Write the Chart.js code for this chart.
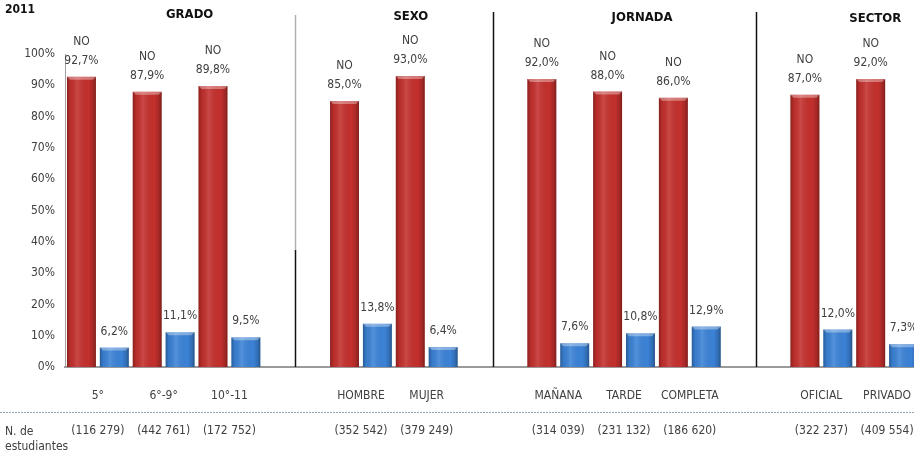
<!DOCTYPE html>
<html>
<head>
<meta charset="utf-8">
<script src="https://cdn.jsdelivr.net/npm/chart.js@4/dist/chart.umd.min.js"></script>
<style>
  html, body { margin: 0; padding: 0; background: #fff; overflow: hidden; }
  #wrap { position: absolute; left: 0; top: 0; width: 922px; height: 454px; }
  #chart { display: block; width: 922px; height: 454px; }
</style>
</head>
<body>
<div id="wrap"><canvas id="chart" width="922" height="454"></canvas></div>
<script>
// -------------------- DATA --------------------
const yearLabel = "2011";
const categories = ["5°", "6°-9°", "10°-11", "", "HOMBRE", "MUJER", "", "MAÑANA", "TARDE", "COMPLETA", "", "OFICIAL", "PRIVADO"];
const noValues = [92.7, 87.9, 89.8, null, 85.0, 93.0, null, 92.0, 88.0, 86.0, null, 87.0, 92.0];
const siValues = [6.2, 11.1, 9.5, null, 13.8, 6.4, null, 7.6, 10.8, 12.9, null, 12.0, 7.3];
const studentCounts = ["(116 279)", "(442 761)", "(172 752)", "", "(352 542)", "(379 249)", "", "(314 039)", "(231 132)", "(186 620)", "", "(322 237)", "(409 554)"];
const groupTitles = ["GRADO", "SEXO", "JORNADA", "SECTOR"];
const groupRanges = [[0, 2], [4, 5], [7, 9], [11, 12]];
const separatorIdx = [3, 6, 10];
const yTicks = [0, 10, 20, 30, 40, 50, 60, 70, 80, 90, 100];

// -------------------- STYLE --------------------
const FONT = '"Liberation Sans Narrow", "DejaVu Sans Condensed", sans-serif';
const TXT = "#404040";
const RED = "#c3302d";
const BLUE = "#3b82d6";
const titleShift = [26, 17, 18, 21]; // titles sit a bit right of their groups

function fmt(v) {
  return v.toFixed(1).replace(".", ",") + "%";
}

// -------------------- PLUGIN: bar shading + labels --------------------
const barDeco = {
  id: "barDeco",
  afterDatasetsDraw(chart) {
    const ctx = chart.ctx;
    chart.data.datasets.forEach((ds, di) => {
      const meta = chart.getDatasetMeta(di);
      meta.data.forEach((el, i) => {
        const v = ds.data[i];
        if (v == null) return;
        const p = el.getProps(["x", "y", "base", "width"], true);
        const l = p.x - p.width / 2, r = p.x + p.width / 2;
        // cylinder-like shading
        ctx.save();
        const g = ctx.createLinearGradient(l, 0, r, 0);
        g.addColorStop(0, "rgba(0,0,0,0.30)");
        g.addColorStop(0.12, "rgba(0,0,0,0.05)");
        g.addColorStop(0.35, "rgba(255,255,255,0.12)");
        g.addColorStop(0.75, "rgba(0,0,0,0.0)");
        g.addColorStop(0.9, "rgba(0,0,0,0.15)");
        g.addColorStop(1, "rgba(0,0,0,0.35)");
        ctx.fillStyle = g;
        ctx.fillRect(l, p.y, p.width, p.base - p.y);
        // top bevel
        ctx.fillStyle = "rgba(255,255,255,0.35)";
        ctx.beginPath();
        ctx.moveTo(l, p.y);
        ctx.lineTo(r, p.y);
        ctx.lineTo(r - 3, p.y + 3);
        ctx.lineTo(l + 3, p.y + 3);
        ctx.closePath();
        ctx.fill();
        ctx.restore();

        // value labels
        ctx.save();
        ctx.font = "12px " + FONT;
        ctx.fillStyle = TXT;
        ctx.textAlign = "center";
        ctx.textBaseline = "middle";
        ctx.fillText(fmt(v), p.x, p.y - 16);
        if (di === 0) ctx.fillText("NO", p.x, p.y - 35);
        ctx.restore();
      });
    });
  },
  afterDraw(chart) {
    const ctx = chart.ctx;
    const xs = chart.scales.x;
    const area = chart.chartArea;

    ctx.save();
    // separators between groups
    separatorIdx.forEach((idx, k) => {
      const x = Math.round(xs.getPixelForValue(idx)) + 0.5;
      ctx.lineWidth = 1.5;
      if (k === 0) {
        ctx.strokeStyle = "#b0b0b0";
        ctx.beginPath(); ctx.moveTo(x, 15); ctx.lineTo(x, 250); ctx.stroke();
        ctx.strokeStyle = "#111";
        ctx.beginPath(); ctx.moveTo(x, 250); ctx.lineTo(x, area.bottom); ctx.stroke();
      } else {
        ctx.strokeStyle = "#111";
        ctx.beginPath(); ctx.moveTo(x, 12); ctx.lineTo(x, area.bottom); ctx.stroke();
      }
    });

    // year + group titles
    ctx.fillStyle = "#111";
    ctx.textBaseline = "middle";
    ctx.font = "bold 12px " + FONT;
    ctx.textAlign = "left";
    ctx.fillText(yearLabel, 5, 10);
    ctx.font = "bold 13px " + FONT;
    ctx.textAlign = "center";
    groupTitles.forEach((t, k) => {
      const [a, b] = groupRanges[k];
      const cx = (xs.getPixelForValue(a) + xs.getPixelForValue(b)) / 2 + titleShift[k];
      ctx.fillText(t, cx, 15 + k * 1.3);
    });

    // dotted divider
    ctx.strokeStyle = "#98a6b8";
    ctx.lineWidth = 1;
    ctx.setLineDash([2, 1]);
    ctx.beginPath(); ctx.moveTo(0, 412.5); ctx.lineTo(chart.width, 412.5); ctx.stroke();
    ctx.setLineDash([]);

    // number of students row
    ctx.fillStyle = TXT;
    ctx.font = "12px " + FONT;
    ctx.textAlign = "left";
    ctx.fillText("N. de", 5, 432);
    ctx.fillText("estudiantes", 5, 447);
    ctx.textAlign = "center";
    studentCounts.forEach((c, i) => {
      if (!c) return;
      ctx.fillText(c, xs.getPixelForValue(i), 431);
    });
    ctx.restore();
  }
};

// -------------------- CHART --------------------
const chart = new Chart(document.getElementById("chart").getContext("2d"), {
  type: "bar",
  data: {
    labels: categories,
    datasets: [
      { label: "NO", data: noValues, backgroundColor: RED, categoryPercentage: 1.0, barPercentage: 0.88 },
      { label: "SI", data: siValues, backgroundColor: BLUE, categoryPercentage: 1.0, barPercentage: 0.88 }
    ]
  },
  options: {
    responsive: false,
    animation: false,
    // canvas is wider than the window: the last blue bar runs past the edge in the original
    layout: { padding: { top: 54, left: 0, right: 2, bottom: 0 } },
    plugins: {
      legend: { display: false },
      tooltip: { enabled: false }
    },
    scales: {
      x: {
        grid: { display: false, drawTicks: false },
        border: { display: true, color: "#9a9a9a", width: 2 },
        ticks: { color: TXT, font: { family: FONT, size: 12 }, padding: 22, maxRotation: 0, autoSkip: false },
        afterFit(scale) {
          scale.height = 87;
          scale.paddingLeft = 0;
          scale.paddingRight = 0;
        }
      },
      y: {
        min: 0,
        max: 100,
        afterBuildTicks(scale) { scale.ticks = yTicks.map(v => ({ value: v })); },
        grid: { display: false, drawTicks: false },
        border: { display: true, color: "#a0a0a0", width: 1 },
        ticks: { color: TXT, font: { family: FONT, size: 12 }, padding: 10, callback: v => v + "%" },
        afterFit(scale) { scale.width = 65; }
      }
    }
  },
  plugins: [barDeco]
});
</script>
</body>
</html>
